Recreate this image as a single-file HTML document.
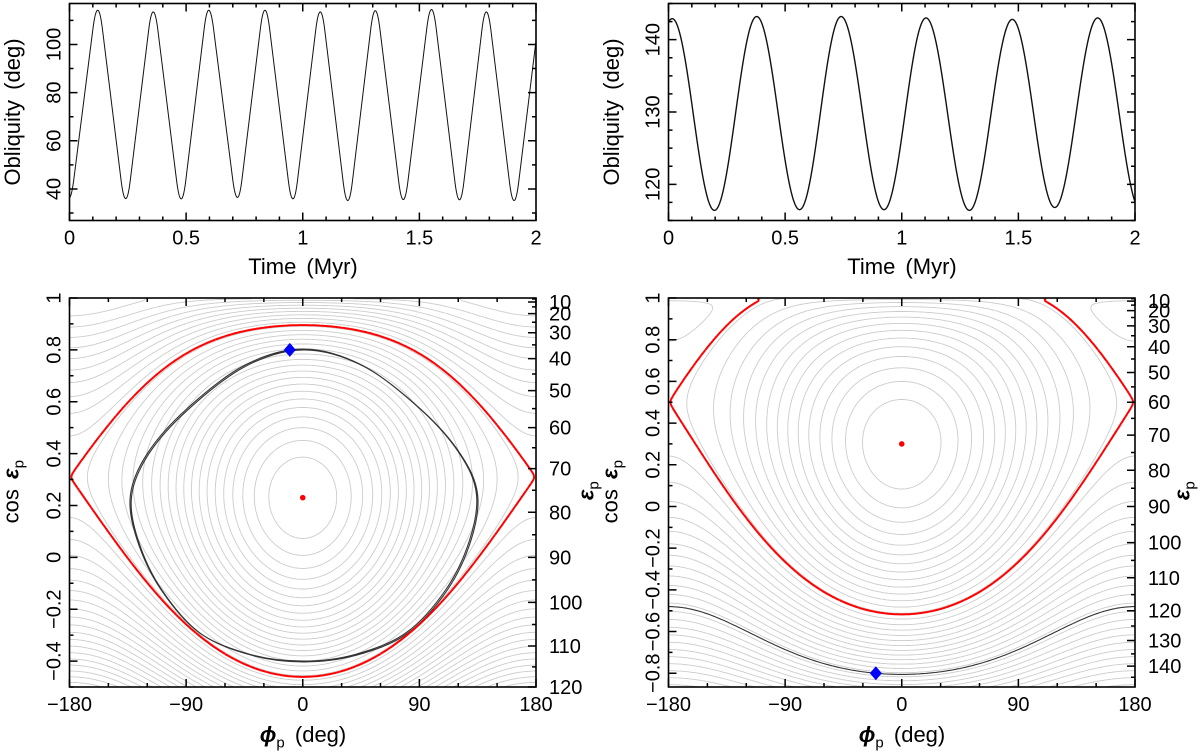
<!DOCTYPE html>
<html><head><meta charset="utf-8"><style>
html,body{margin:0;padding:0;background:#fff;}
svg{display:block;font-family:"Liberation Sans",sans-serif;}
</style></head><body>
<svg id="fig" width="1200" height="752" viewBox="0 0 1200 752" xmlns="http://www.w3.org/2000/svg">
<defs>
<clipPath id="c0"><rect x="69.5" y="3.5" width="466.5" height="217"/></clipPath>
<clipPath id="c1"><rect x="668.5" y="3.5" width="466.5" height="217"/></clipPath>
<clipPath id="c2"><rect x="69.5" y="298" width="466.5" height="389"/></clipPath>
<clipPath id="c3"><rect x="668.5" y="298" width="466.5" height="389"/></clipPath>
</defs>
</svg>
<script>
// ---- data ----
const leftTimes = [-0.002,0.121,0.241,0.359,0.479,0.597,0.72,0.838,0.958,1.075,1.193,1.311,1.431,1.552,1.672,1.787,1.906,2.026];
const leftObl   = [36.3,114.2,36.0,113.5,35.9,114.2,36.5,114.2,35.9,113.5,35.2,114.0,35.6,114.5,35.5,113.5,35.2,114.0];
const rightTimes = [-0.17,0.016,0.197,0.378,0.562,0.74,0.924,1.104,1.29,1.474,1.656,1.84,2.025];
const rightObl   = [116.5,142.9,116.4,143.2,116.5,143.2,116.5,143.0,116.4,142.8,116.8,143.0,116.4];
const centerCos = [0.23, 0.30];     // resonance centre (cos eps)
const saddleCos = [0.31, 0.50];     // hyperbolic point at phi = 180
const diamondPhi = [-10, -20];
const diamondCos = [0.80, -0.80];
const levelStep = [0.1, 0.13];
const trajLeftPhi = [0,-45,-90,-120,-133,-128,-110,-80,-40,0,40,80,111,129,134,121,91,46];
const trajLeftCos = [0.803,0.74,0.57,0.40,0.24,0.07,-0.12,-0.29,-0.375,-0.40,-0.375,-0.29,-0.12,0.07,0.245,0.40,0.57,0.74];
const epsTicksLeft = [10,20,30,40,50,60,70,80,90,100,110,120];
const epsTicksRight = [10,20,30,40,50,60,70,80,90,100,110,120,130,140];

const NS="http://www.w3.org/2000/svg";
const svg=document.getElementById('fig');
function el(tag,attrs,parent){const e=document.createElementNS(NS,tag);for(const k in attrs)e.setAttribute(k,attrs[k]);(parent||svg).appendChild(e);return e;}
function fmt(v){let s=(Math.round(v*1000)/1000).toString();return s.replace('-','\u2212');}

const panels=[
 {x0:69.5,x1:536,y0:3.5,y1:220.5,xmin:0,xmax:2,ymin:26.9,ymax:117,clip:'c0'},
 {x0:668.5,x1:1135,y0:3.5,y1:220.5,xmin:0,xmax:2,ymin:115,ymax:145,clip:'c1'},
 {x0:69.5,x1:536,y0:298,y1:687,xmin:-180,xmax:180,ymin:-0.5,ymax:1,clip:'c2'},
 {x0:668.5,x1:1135,y0:298,y1:687,xmin:-180,xmax:180,ymin:-0.866,ymax:1,clip:'c3'}
];
panels.forEach(p=>{p.sx=v=>p.x0+(v-p.xmin)/(p.xmax-p.xmin)*(p.x1-p.x0);p.sy=v=>p.y1-(v-p.ymin)/(p.ymax-p.ymin)*(p.y1-p.y0);});

function ticks(p,gname,xMaj,xMin,yMaj,yMin,rightLabels){
 const g=el('g',{});
 
 
 let d='';
 const L=8,l=4;
 xMin.forEach(v=>{const x=p.sx(v);d+=`M${x} ${p.y1}v${-l}M${x} ${p.y0}v${l}`;});
 xMaj.forEach(v=>{const x=p.sx(v);d+=`M${x} ${p.y1}v${-L}M${x} ${p.y0}v${L}`;});
 yMin.forEach(v=>{const y=p.sy(v);d+=`M${p.x0} ${y}h${l}`;if(!rightLabels)d+=`M${p.x1} ${y}h${-l}`;});
 yMaj.forEach(v=>{const y=p.sy(v);d+=`M${p.x0} ${y}h${L}`;if(!rightLabels)d+=`M${p.x1} ${y}h${-L}`;});
 el('path',{d:d,stroke:'#000','stroke-width':1.5,fill:'none'},g);
 xMaj.forEach(v=>{const t=el('text',{x:p.sx(v),y:p.y1+24,'text-anchor':'middle','font-size':20},g);t.textContent=fmt(v);});
 yMaj.forEach(v=>{const yy=p.sy(v),xx=p.x0-9;const t=el('text',{x:xx,y:yy,'text-anchor':'middle','font-size':20,transform:`rotate(-90 ${xx} ${yy})`},g);t.textContent=fmt(v);});
 if(rightLabels){
  let dd='';
  for(let e=5;e<=150;e+=5){const c=Math.cos(e*Math.PI/180);if(c<p.ymin-1e-6||c>p.ymax)continue;const y=p.sy(c);dd+=`M${p.x1} ${y}h${e%10===0?-L:-l}`;}
  el('path',{d:dd,stroke:'#000','stroke-width':1.5,fill:'none'},g);
  rightLabels.forEach(e=>{const t=el('text',{x:p.x1+13,y:p.sy(Math.cos(e*Math.PI/180))+7,'font-size':20},g);t.textContent=e;});
 }
}
function range(a,b,s){const r=[];for(let v=a;v<=b+1e-9;v+=s)r.push(Math.round(v*1e6)/1e6);return r;}

// ---- time series ----
function smoothTri(u){const w=0.17,m=1/(1-w);if(u<w)return m*u*u/(2*w);if(u>1-w)return 1-m*(1-u)*(1-u)/(2*w);return m*(u-w/2);}
function series(p,times,vals,shape,name,w){
 let d='';
 for(let t=0;t<=2.0001;t+=0.001){
  let i=0;while(i<times.length-2&&t>times[i+1])i++;
  const u=(t-times[i])/(times[i+1]-times[i]);
  const s=shape(Math.max(0,Math.min(1,u)));
  const v=vals[i]+(vals[i+1]-vals[i])*s;
  d+=(d?'L':'M')+p.sx(t).toFixed(2)+' '+p.sy(v).toFixed(2);
 }
 const e=el('path',{d:d,fill:'none',stroke:'#111','stroke-width':w,'clip-path':`url(#${p.clip})`});
 
 
}
series(panels[0],leftTimes,leftObl,smoothTri,'obliquity-line-left',1);
series(panels[1],rightTimes,rightObl,u=>(1-Math.cos(Math.PI*u))/2,'obliquity-line-right',1.4);

// ---- phase portraits ----
function contour(p,H,level,xlo,xhi){
 const NX=240,NY=220;let d='';
 const vals=[];
 for(let j=0;j<=NY;j++){const row=[];const y=xlo+(xhi-xlo)*j/NY;for(let i=0;i<=NX;i++){row.push(H(-180+360*i/NX,y)-level);}vals.push(row);}
 const px=i=>p.sx(-180+360*i/NX),py=j=>p.sy(xlo+(xhi-xlo)*j/NY);
 for(let j=0;j<NY;j++)for(let i=0;i<NX;i++){
  const a=vals[j][i],b=vals[j][i+1],c=vals[j+1][i+1],e=vals[j+1][i];
  const pts=[];
  if((a>0)!==(b>0)){const t=a/(a-b);pts.push([px(i+t),py(j)]);}
  if((b>0)!==(c>0)){const t=b/(b-c);pts.push([px(i+1),py(j+t)]);}
  if((c>0)!==(e>0)){const t=c/(c-e);pts.push([px(i+1-t),py(j+1)]);}
  if((e>0)!==(a>0)){const t=e/(e-a);pts.push([px(i),py(j+1-t)]);}
  for(let k=0;k+1<pts.length;k+=2)d+=`M${pts[k][0].toFixed(1)} ${pts[k][1].toFixed(1)}L${pts[k+1][0].toFixed(1)} ${pts[k+1][1].toFixed(1)}`;
 }
 return d;
}
function closedSpline(P){
 const n=P.length;let d=`M${P[0][0].toFixed(1)} ${P[0][1].toFixed(1)}`;
 for(let i=0;i<n;i++){
  const p0=P[(i-1+n)%n],p1=P[i],p2=P[(i+1)%n],p3=P[(i+2)%n];
  const c1=[p1[0]+(p2[0]-p0[0])/6,p1[1]+(p2[1]-p0[1])/6];
  const c2=[p2[0]-(p3[0]-p1[0])/6,p2[1]-(p3[1]-p1[1])/6];
  d+=`C${c1[0].toFixed(1)} ${c1[1].toFixed(1)} ${c2[0].toFixed(1)} ${c2[1].toFixed(1)} ${p2[0].toFixed(1)} ${p2[1].toFixed(1)}`;
 }
 return d+'Z';
}
[0,1].forEach(k=>{
 const p=panels[2+k];
 const xc=centerCos[k],xs=saddleCos[k];
 const pc=xc/Math.sqrt(1-xc*xc),q=-xs/Math.sqrt(1-xs*xs);
 const a=(pc-q)/(xc-xs),b=pc-a*xc;
 const H=(phi,x)=>a/2*x*x+b*x+Math.sqrt(Math.max(0,1-x*x))*Math.cos(phi*Math.PI/180);
 const xlo=p.ymin-0.01,xhi=0.997;
 const Hc=H(0,xc),Hs=H(180,xs);
 let gd='';
 for(let lv=Hc-levelStep[k];lv>-4;lv-=levelStep[k])gd+=contour(p,H,lv,xlo,xhi);
 const g=el('path',{d:gd,fill:'none',stroke:'#cccccc','stroke-width':0.9,'clip-path':`url(#${p.clip})`});
 
 
 let td='';
 if(k===0){
  const P=trajLeftPhi.map((ph,i)=>[p.sx(ph),p.sy(trajLeftCos[i])]);
  td=closedSpline(P)+closedSpline(P.map(q=>[q[0]+1.2,q[1]+0.8]));
 } else {
  td=contour(p,H,H(diamondPhi[k],diamondCos[k]),xlo,xhi);
 }
 const tr=el('path',{d:td,fill:'none',stroke:'#333','stroke-width':1.1,'stroke-linejoin':'round','clip-path':`url(#${p.clip})`});
 
 
 const sp=el('path',{d:contour(p,H,Hs+0.0003,xlo,xhi),fill:'none',stroke:'#ff0000','stroke-width':2,'clip-path':`url(#${p.clip})`});
 
 
 const dot=el('circle',{cx:p.sx(0),cy:p.sy(xc),r:2.8,fill:'#ff0000'});
 
 
 const dx=p.sx(diamondPhi[k]),dy=p.sy(diamondCos[k]);
 const dm=el('path',{d:`M${dx} ${dy-7}L${dx+6} ${dy}L${dx} ${dy+7}L${dx-6} ${dy}Z`,fill:'#0000ff'});
 
 
});

// ---- frames & ticks ----
panels.forEach(p=>{
 const r=el('rect',{x:p.x0,y:p.y0,width:p.x1-p.x0,height:p.y1-p.y0,fill:'none',stroke:'#000','stroke-width':1.6});
 
 
});
ticks(panels[0],'axes-top-left',range(0,2,0.5),range(0,2,0.1),[40,60,80,100],range(30,110,10),null);
ticks(panels[1],'axes-top-right',range(0,2,0.5),range(0,2,0.1),[120,130,140],range(115,145,2.5),null);
ticks(panels[2],'axes-bottom-left',[-180,-90,0,90,180],range(-180,180,30),[-0.4,-0.2,0,0.2,0.4,0.6,0.8,1],range(-0.5,1,0.1),epsTicksLeft);
ticks(panels[3],'axes-bottom-right',[-180,-90,0,90,180],range(-180,180,30),[-0.8,-0.6,-0.4,-0.2,0,0.2,0.4,0.6,0.8,1],range(-0.8,1,0.1),epsTicksRight);
</script>
<div style="position:absolute;left:0;top:0;width:1200px;height:752px;pointer-events:none;font-family:'Liberation Sans',sans-serif;font-size:22px;word-spacing:4px;">
 <div style="position:absolute;left:203px;top:254px;width:200px;text-align:center;">Time (Myr)</div>
 <div style="position:absolute;left:802px;top:254px;width:200px;text-align:center;">Time (Myr)</div>
 <div style="position:absolute;left:-87px;top:99px;width:200px;text-align:center;transform:rotate(-90deg);">Obliquity (deg)</div>
 <div style="position:absolute;left:512px;top:99px;width:200px;text-align:center;transform:rotate(-90deg);">Obliquity (deg)</div>
 <div style="position:absolute;left:203px;top:722px;width:200px;text-align:center;"><b><i>ϕ</i></b><sub style="font-size:15px">p</sub> (deg)</div>
 <div style="position:absolute;left:802px;top:722px;width:200px;text-align:center;"><b><i>ϕ</i></b><sub style="font-size:15px">p</sub> (deg)</div>
 <div style="position:absolute;left:-87px;top:477px;width:200px;text-align:center;transform:rotate(-90deg);">cos <b><i>ε</i></b><sub style="font-size:15px">p</sub></div>
 <div style="position:absolute;left:512px;top:477px;width:200px;text-align:center;transform:rotate(-90deg);">cos <b><i>ε</i></b><sub style="font-size:15px">p</sub></div>
 <div style="position:absolute;left:558px;top:476px;width:60px;text-align:center;transform:rotate(-90deg);"><b><i>ε</i></b><sub style="font-size:15px">p</sub></div>
 <div style="position:absolute;left:1154px;top:476px;width:60px;text-align:center;transform:rotate(-90deg);"><b><i>ε</i></b><sub style="font-size:15px">p</sub></div>
</div>
</body></html>
